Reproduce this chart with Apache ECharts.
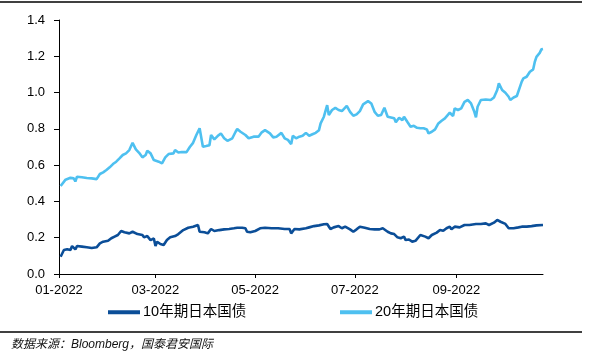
<!DOCTYPE html>
<html>
<head>
<meta charset="utf-8">
<script src="https://cdn.jsdelivr.net/npm/echarts@6/dist/echarts.min.js"></script>
<style>
html,body{margin:0;padding:0;background:#fff;}
#chart{width:592px;height:364px;}
</style>
</head>
<body>
<div id="chart"></div>
<script>
const seriesNames = ['10年期日本国债', '20年期日本国债'];
const xTickDates = ['2022-01-01', '2022-03-01', '2022-05-01', '2022-07-01', '2022-09-01'];
const xRange = ['2022-01-01', '2022-10-24'];
const yTicks = [0, 0.2, 0.4, 0.6, 0.8, 1.0, 1.2, 1.4];

const jgb10Dates = ['2022-01-02','2022-01-04','2022-01-06','2022-01-08','2022-01-09','2022-01-11','2022-01-12','2022-01-15','2022-01-18','2022-01-21','2022-01-24','2022-01-26','2022-01-28','2022-01-31',
'2022-02-02','2022-02-04','2022-02-06','2022-02-08','2022-02-10','2022-02-13','2022-02-15','2022-02-18','2022-02-21','2022-02-22','2022-02-24','2022-02-26','2022-02-28',
'2022-03-01','2022-03-02','2022-03-04','2022-03-06','2022-03-08','2022-03-10','2022-03-13','2022-03-15','2022-03-18','2022-03-21','2022-03-24','2022-03-27','2022-03-28','2022-03-31',
'2022-04-02','2022-04-04','2022-04-06','2022-04-09','2022-04-12','2022-04-15','2022-04-18','2022-04-20','2022-04-23','2022-04-25','2022-04-26','2022-04-28',
'2022-05-01','2022-05-04','2022-05-07','2022-05-11','2022-05-15','2022-05-19','2022-05-22','2022-05-23','2022-05-25','2022-05-28',
'2022-06-01','2022-06-03','2022-06-06','2022-06-09','2022-06-12','2022-06-14','2022-06-16','2022-06-18','2022-06-21','2022-06-23','2022-06-25','2022-06-28','2022-06-30',
'2022-07-02','2022-07-04','2022-07-07','2022-07-10','2022-07-13','2022-07-16','2022-07-18','2022-07-21','2022-07-23','2022-07-25','2022-07-27','2022-07-29','2022-07-31',
'2022-08-01','2022-08-03','2022-08-05','2022-08-07','2022-08-08','2022-08-10','2022-08-11','2022-08-13','2022-08-15','2022-08-17','2022-08-20','2022-08-22','2022-08-24','2022-08-26','2022-08-28','2022-08-29','2022-08-31',
'2022-09-03','2022-09-06','2022-09-09','2022-09-13','2022-09-16','2022-09-19','2022-09-21','2022-09-24','2022-09-26','2022-09-28',
'2022-10-01','2022-10-03','2022-10-06','2022-10-09','2022-10-11','2022-10-14','2022-10-17','2022-10-20','2022-10-24'];
const jgb10Values = [0.095,0.132,0.136,0.132,0.154,0.136,0.154,0.151,0.147,0.143,0.147,0.169,0.178,0.183,
0.197,0.206,0.215,0.237,0.23,0.224,0.233,0.22,0.215,0.202,0.209,0.187,0.196,
0.154,0.178,0.165,0.16,0.187,0.202,0.209,0.22,0.242,0.255,0.26,0.27,0.233,0.23,
0.224,0.248,0.237,0.242,0.246,0.248,0.252,0.255,0.255,0.252,0.233,0.23,
0.237,0.252,0.255,0.252,0.252,0.248,0.248,0.224,0.248,0.246,
0.252,0.257,0.264,0.268,0.274,0.276,0.248,0.257,0.264,0.252,0.261,0.246,0.233,
0.246,0.261,0.255,0.248,0.246,0.246,0.252,0.233,0.224,0.22,0.202,0.197,0.206,
0.187,0.19,0.178,0.183,0.19,0.215,0.209,0.206,0.197,0.215,0.228,0.242,0.238,0.252,0.261,0.246,0.261,
0.257,0.27,0.27,0.276,0.276,0.279,0.27,0.283,0.298,0.288,
0.276,0.252,0.252,0.257,0.261,0.261,0.264,0.268,0.27];

const jgb20Dates = ['2022-01-02','2022-01-05','2022-01-08','2022-01-10','2022-01-11','2022-01-12','2022-01-15','2022-01-18','2022-01-21','2022-01-24','2022-01-26','2022-01-28','2022-01-30',
'2022-02-01','2022-02-03','2022-02-05','2022-02-07','2022-02-09','2022-02-11','2022-02-13','2022-02-15','2022-02-17','2022-02-19','2022-02-21','2022-02-23','2022-02-24','2022-02-26','2022-02-28',
'2022-03-01','2022-03-03','2022-03-05','2022-03-07','2022-03-09','2022-03-12','2022-03-13','2022-03-15','2022-03-17','2022-03-20','2022-03-22','2022-03-24','2022-03-26','2022-03-28','2022-03-30',
'2022-04-01','2022-04-03','2022-04-04','2022-04-06','2022-04-08','2022-04-10','2022-04-12','2022-04-14','2022-04-17','2022-04-19','2022-04-20','2022-04-22','2022-04-25','2022-04-27','2022-04-30',
'2022-05-03','2022-05-05','2022-05-07','2022-05-10','2022-05-12','2022-05-14','2022-05-17','2022-05-19','2022-05-21','2022-05-23','2022-05-24','2022-05-26','2022-05-28','2022-05-30',
'2022-06-01','2022-06-03','2022-06-05','2022-06-07','2022-06-09','2022-06-10','2022-06-12','2022-06-14','2022-06-15','2022-06-17','2022-06-19','2022-06-21','2022-06-23','2022-06-26','2022-06-28','2022-06-30',
'2022-07-02','2022-07-04','2022-07-06','2022-07-09','2022-07-11','2022-07-13','2022-07-15','2022-07-17','2022-07-19','2022-07-21','2022-07-23','2022-07-25','2022-07-26','2022-07-28','2022-07-30','2022-07-31',
'2022-08-02','2022-08-04','2022-08-06','2022-08-08','2022-08-10','2022-08-12','2022-08-14','2022-08-15','2022-08-17','2022-08-19','2022-08-21','2022-08-23','2022-08-25','2022-08-26','2022-08-28','2022-08-30','2022-08-31',
'2022-09-02','2022-09-04','2022-09-06','2022-09-08','2022-09-10','2022-09-12','2022-09-13','2022-09-14','2022-09-16','2022-09-19','2022-09-20','2022-09-22','2022-09-24','2022-09-26','2022-09-27','2022-09-29',
'2022-10-01','2022-10-03','2022-10-04','2022-10-06','2022-10-08','2022-10-09','2022-10-11','2022-10-12','2022-10-14','2022-10-16','2022-10-18','2022-10-19','2022-10-20','2022-10-22','2022-10-23','2022-10-24'];
const jgb20Values = [0.485,0.52,0.53,0.527,0.51,0.536,0.533,0.529,0.527,0.523,0.551,0.56,0.573,
0.588,0.606,0.619,0.637,0.656,0.665,0.683,0.723,0.687,0.668,0.643,0.656,0.679,0.665,0.628,
0.637,0.619,0.61,0.643,0.661,0.665,0.683,0.67,0.672,0.672,0.70,0.723,0.766,0.803,0.701,
0.705,0.71,0.766,0.742,0.76,0.775,0.748,0.734,0.748,0.784,0.799,0.784,0.766,0.748,0.757,
0.757,0.781,0.793,0.775,0.753,0.757,0.778,0.748,0.739,0.716,0.762,0.748,0.757,0.762,
0.778,0.762,0.77,0.778,0.793,0.83,0.867,0.931,0.876,0.904,0.916,0.904,0.898,0.927,0.894,0.872,
0.88,0.898,0.935,0.953,0.94,0.894,0.872,0.876,0.916,0.867,0.863,0.858,0.836,0.861,0.848,0.867,
0.839,0.812,0.817,0.806,0.803,0.803,0.797,0.775,0.784,0.797,0.83,0.845,0.858,0.867,0.889,0.871,0.913,
0.904,0.913,0.949,0.959,0.94,0.894,0.863,0.922,0.959,0.962,0.973,0.959,0.973,1.014,1.051,1.014,
0.999,0.977,0.959,0.973,0.981,0.977,1.06,1.078,1.087,1.115,1.128,1.17,1.197,1.219,1.238,1.24];

function toTime(s) {
  const p = s.split('-').map(Number);
  return Date.UTC(p[0], p[1] - 1, p[2]);
}
function zip(dates, vals) {
  return dates.map((d, i) => [toTime(d), vals[i]]);
}

const colors = ['#0b4e98', '#4ec0f0'];
const latin = "'Liberation Sans', Arial, 'Noto Sans CJK SC', sans-serif";
const tickTimes = xTickDates.map(toTime);

const chart = echarts.init(document.getElementById('chart'), null, { renderer: 'canvas' });
chart.setOption({
  animation: false,
  backgroundColor: '#ffffff',
  grid: { left: 59, right: 49, top: 20, bottom: 90, containLabel: false },
  xAxis: {
    type: 'value',
    min: toTime(xRange[0]),
    max: toTime(xRange[1]),
    axisLine: { show: true, onZero: false, lineStyle: { color: '#000', width: 1 } },
    axisTick: { show: true, length: 4, lineStyle: { color: '#000' }, customValues: tickTimes },
    axisLabel: {
      customValues: tickTimes,
      color: '#000', fontSize: 13, fontFamily: latin, margin: 10,
      formatter: function (v) {
        const d = new Date(v);
        const m = d.getUTCMonth() + 1;
        return (m < 10 ? '0' + m : '' + m) + '-' + d.getUTCFullYear();
      }
    },
    splitLine: { show: false }
  },
  yAxis: {
    type: 'value',
    min: yTicks[0], max: yTicks[yTicks.length - 1], interval: 0.2,
    axisLine: { show: true, lineStyle: { color: '#000', width: 1 } },
    axisTick: { show: true, length: 5, lineStyle: { color: '#000' } },
    axisLabel: { color: '#000', fontSize: 13, fontFamily: latin, margin: 14, formatter: v => v.toFixed(1) },
    splitLine: { show: false }
  },
  legend: [
    { data: [seriesNames[0]], left: 108, top: 305, padding: 0, icon: 'rect', itemWidth: 32, itemHeight: 4, itemGap: 0,
      textStyle: { fontSize: 14.5, color: '#000', fontFamily: "'Liberation Sans', 'Noto Sans CJK SC', sans-serif", padding: [0, 0, 0, -2] } },
    { data: [seriesNames[1]], left: 340, top: 305, padding: 0, icon: 'rect', itemWidth: 32, itemHeight: 4, itemGap: 0,
      textStyle: { fontSize: 14.5, color: '#000', fontFamily: "'Liberation Sans', 'Noto Sans CJK SC', sans-serif", padding: [0, 0, 0, -2] } }
  ],
  series: [
    { name: seriesNames[0], type: 'line', data: zip(jgb10Dates, jgb10Values), showSymbol: false, symbol: 'none',
      lineStyle: { color: colors[0], width: 2.6 }, itemStyle: { color: colors[0] } },
    { name: seriesNames[1], type: 'line', data: zip(jgb20Dates, jgb20Values), showSymbol: false, symbol: 'none',
      lineStyle: { color: colors[1], width: 2.6 }, itemStyle: { color: colors[1] } }
  ],
  graphic: [
    { type: 'line', shape: { x1: 0, y1: 2, x2: 582, y2: 2 }, style: { stroke: '#000', lineWidth: 1.5 } },
    { type: 'line', shape: { x1: 0, y1: 332, x2: 582, y2: 332 }, style: { stroke: '#000', lineWidth: 1.5 } },
    { type: 'text', left: 11, top: 339, style: { text: '数据来源：Bloomberg，国泰君安国际', fill: '#111',
      font: "italic 12px 'Liberation Sans', 'Noto Sans CJK SC', sans-serif" } }
  ]
});
</script>
</body>
</html>
